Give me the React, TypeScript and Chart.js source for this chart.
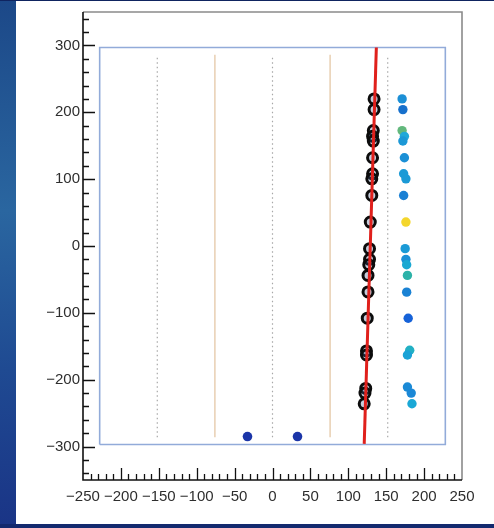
import React, { useEffect, useRef } from "react";
import { Chart, registerables } from "chart.js";

Chart.register(...registerables);

// ---- axis definitions ----
const xRange = [-250, 250];
const yRange = [-350, 350];
const xTickValues = [-250, -200, -150, -100, -50, 0, 50, 100, 150, 200, 250];
const yTickValues = [-300, -200, -100, 0, 100, 200, 300];

// ---- track hits (black rings) ----
const trackY = [220, 204, 172.6, 164, 157, 132, 108, 100.5, 75.6, 35.8, -4, -20, -28, -44, -68.7, -108, -157, -163, -213, -220, -236];
const trackX = [134, 134, 133, 132, 133, 132, 132, 131, 131, 129, 128, 128, 127, 126, 126, 125, 124, 124, 123, 122, 121];

// ---- coloured hits ----
const hitY = [220, 204, 172.6, 164, 157, 132, 108, 100.5, 75.6, 35.8, -4, -20, -28, -44, -69, -108, -156, -163, -211, -220, -236];
const hitX = [171, 172, 171, 174, 172, 174, 173, 176, 173, 176, 175, 176, 177, 178, 177, 179, 181, 178, 178, 183, 184];
const hitColors = [
  "#1b8fd6", "#1670cc", "#62b87c", "#20a8d8", "#1b98d6", "#1b90d6", "#1b9ad6",
  "#1b9ad6", "#1a80d4", "#f4d62c", "#1b9ad6", "#1b90d6", "#1aa8d2", "#2cb2a8",
  "#1a82d4", "#1662d8", "#22b0c4", "#1aa2d6", "#1b8ad6", "#1b88d6", "#1aa8d6",
];

// ---- isolated hits ----
const lowX = [-33, 33];
const lowY = [-285, -285];

// ---- fitted line ----
const fitX = [121, 137];
const fitY = [-296, 297];

// ---- detector outline ----
const boxX = [-228, -228, 228, 228, -228];
const boxY = [-297, 297, 297, -297, -297];
const dottedX = [-152, 0, 152];
const tanX = [-76, 76];
const guideY = [-286, 286];

const fmt = (v: number) => (v < 0 ? "\u2212" + Math.abs(v) : String(v));

const framePlugin = {
  id: "rootFrame",
  afterDraw(chart: any) {
    const { ctx, chartArea } = chart;
    const xs = chart.scales.x;
    const ys = chart.scales.y;
    const { left, right, top, bottom } = chartArea;
    ctx.save();
    ctx.strokeStyle = "#8a8a8a";
    ctx.lineWidth = 1.6;
    ctx.beginPath();
    ctx.moveTo(left, top);
    ctx.lineTo(right, top);
    ctx.lineTo(right, bottom);
    ctx.stroke();
    ctx.strokeStyle = "#111";
    ctx.lineWidth = 1.6;
    ctx.beginPath();
    ctx.moveTo(left, top);
    ctx.lineTo(left, bottom);
    ctx.lineTo(right, bottom);
    ctx.stroke();
    ctx.lineWidth = 1.3;
    ctx.strokeStyle = "#111";
    ctx.beginPath();
    for (let v = xRange[0] + 10; v < xRange[1]; v += 10) {
      const px = Math.round(xs.getPixelForValue(v)) + 0.5;
      const len = v % 50 === 0 ? 12 : 6;
      ctx.moveTo(px, bottom);
      ctx.lineTo(px, bottom - len);
    }
    for (let v = yRange[0] + 10; v < yRange[1]; v += 20) {
      const py = Math.round(ys.getPixelForValue(v)) + 0.5;
      const len = v % 100 === 0 ? 12 : 6;
      ctx.moveTo(left, py);
      ctx.lineTo(left + len, py);
    }
    ctx.stroke();
    ctx.restore();
  },
};

export default function App() {
  const ref = useRef<HTMLCanvasElement | null>(null);

  useEffect(() => {
    if (!ref.current) return;
    const pts = (xa: number[], ya: number[]) => xa.map((x, i) => ({ x, y: ya[i] }));
    const vline = (x: number) => [
      { x, y: guideY[0] },
      { x, y: guideY[1] },
    ];
    const lineStyle = {
      showLine: true,
      pointRadius: 0,
      fill: false,
      tension: 0,
    };
    const datasets: any[] = [
      {
        label: "fit",
        data: pts(fitX, fitY),
        ...lineStyle,
        borderColor: "#e0201c",
        borderWidth: 3,
        order: 0,
      },
      {
        label: "track",
        data: pts(trackX, trackY),
        pointRadius: 5,
        pointBorderWidth: 3,
        pointBorderColor: "#0c0c0c",
        pointBackgroundColor: "rgba(60,90,140,0.3)",
        showLine: false,
        order: 1,
      },
      {
        label: "hits",
        data: pts(hitX, hitY),
        pointRadius: 4.7,
        pointBorderWidth: 0,
        pointBackgroundColor: hitColors,
        showLine: false,
        order: 2,
      },
      {
        label: "low",
        data: pts(lowX, lowY),
        pointRadius: 4.8,
        pointBorderWidth: 0,
        pointBackgroundColor: "#1b35a8",
        showLine: false,
        order: 2,
      },
      {
        label: "box",
        data: pts(boxX, boxY),
        ...lineStyle,
        borderColor: "#92abd9",
        borderWidth: 1.6,
        order: 5,
      },
      ...dottedX.map((x) => ({
        label: "dot" + x,
        data: vline(x),
        ...lineStyle,
        borderColor: "#a8a8a8",
        borderWidth: 1.2,
        borderDash: [1.5, 3],
        order: 6,
      })),
      ...tanX.map((x) => ({
        label: "tan" + x,
        data: vline(x),
        ...lineStyle,
        borderColor: "#e8cfb2",
        borderWidth: 1.5,
        order: 6,
      })),
    ];

    const tickFont = { family: "'Liberation Sans', Arial, Helvetica, sans-serif", size: 15 };

    const chart = new Chart(ref.current, {
      type: "scatter",
      data: { datasets },
      options: {
        animation: false,
        responsive: false,
        devicePixelRatio: 1,
        layout: { padding: { left: 16, top: 12, right: 32, bottom: 20 } },
        plugins: { legend: { display: false }, tooltip: { enabled: false } },
        scales: {
          x: {
            type: "linear",
            min: xRange[0],
            max: xRange[1],
            grid: { display: false, drawTicks: false },
            border: { display: false },
            afterBuildTicks: (s: any) => {
              s.ticks = xTickValues.map((value) => ({ value }));
            },
            afterFit: (s: any) => {
              s.height = 28;
            },
            ticks: {
              autoSkip: false,
              maxRotation: 0,
              padding: 8,
              color: "#2e2e2e",
              font: tickFont,
              callback: (v: any) => fmt(Number(v)),
            },
          },
          y: {
            type: "linear",
            min: yRange[0],
            max: yRange[1],
            grid: { display: false, drawTicks: false },
            border: { display: false },
            afterBuildTicks: (s: any) => {
              s.ticks = yTickValues.map((value) => ({ value }));
            },
            afterFit: (s: any) => {
              s.width = 67;
            },
            ticks: {
              autoSkip: false,
              padding: 3,
              color: "#2e2e2e",
              font: tickFont,
              callback: (v: any) => fmt(Number(v)),
            },
          },
        },
      },
      plugins: [framePlugin],
    } as any);
    return () => chart.destroy();
  }, []);

  return (
    <div
      style={{
        position: "fixed",
        left: 0,
        top: 0,
        width: 494,
        height: 528,
        background: "linear-gradient(180deg, #1c4888 0%, #2a66a0 40%, #1f4a92 70%, #1a3486 100%)",
        overflow: "hidden",
      }}
    >
      <div style={{ position: "absolute", left: 0, top: 0, width: 494, height: 1, background: "#0f2460" }} />
      <div style={{ position: "absolute", left: 0, top: 524, width: 494, height: 4, background: "#13296e" }} />
      <div style={{ position: "absolute", left: 16, top: 1, width: 478, height: 523, background: "#ffffff" }} />
      <canvas
        ref={ref}
        width={494}
        height={528}
        style={{ position: "absolute", left: 0, top: 0, width: 494, height: 528 }}
      />
    </div>
  );
}
